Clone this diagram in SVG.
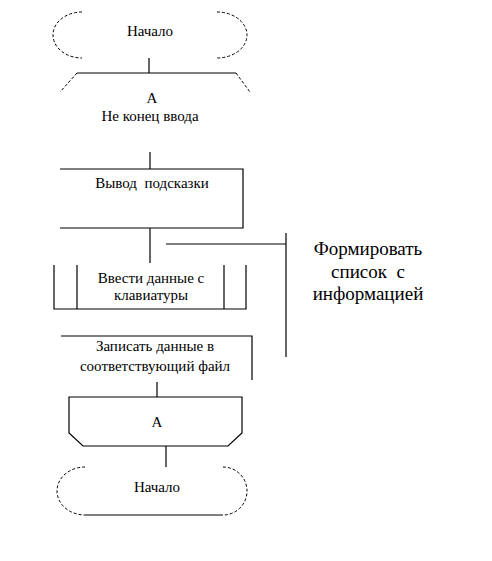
<svg xmlns="http://www.w3.org/2000/svg" width="492" height="561" viewBox="0 0 492 561">
<style>
.ln{stroke:#000;stroke-width:1.2;fill:none}
.ds{stroke:#000;stroke-width:1;fill:none;stroke-dasharray:3 2}
text{font-family:'Liberation Serif','Times New Roman',serif;fill:#000;text-anchor:middle;white-space:pre;font-size:15px}
.tb{font-size:19px}
</style>
<rect width="492" height="561" fill="#fff"/>
<g id="start">
<path class="ds" d="M82,12 A29,23 0 0 0 82,58"/>
<path class="ds" d="M217,12 A30,23 0 0 1 217,58"/>
<text x="150" y="36">Начало</text>
</g>
<g id="loop-start">
<line class="ln" x1="77" y1="73" x2="236" y2="73"/>
<line class="ds" x1="77" y1="73" x2="60" y2="92"/>
<line class="ds" x1="236" y1="73" x2="250" y2="92"/>
<text x="152" y="103">А</text>
<text x="150" y="121">Не конец ввода</text>
</g>
<g id="prompt">
<path class="ln" d="M60,169 H243 V228 H60"/>
<text x="152" y="188">Вывод  подсказки</text>
</g>
<g id="input">
<path class="ln" d="M54,265 V309 H246 V265 M77,265 V309 M224,265 V309"/>
<text x="151" y="283">Ввести данные с</text>
<text x="151" y="300">клавиатуры</text>
</g>
<g id="write">
<path class="ln" d="M61,336 H252 V380"/>
<text x="155" y="351">Записать данные в</text>
<text x="155" y="371">соответствующий файл</text>
</g>
<g id="loop-end">
<path class="ln" d="M69,433 V397 H242 V433 L228,446 H83 Z"/>
<text x="157" y="427">А</text>
</g>
<g id="end">
<path class="ds" d="M85,467 A28,24 0 0 0 85,515"/>
<path class="ds" d="M223,467 A24,24 0 0 1 223,515"/>
<line class="ln" x1="85" y1="515" x2="223" y2="515"/>
<text x="157" y="492">Начало</text>
</g>
<g id="comment">
<path class="ln" d="M166,244 H286 M286,233 V357"/>
<text class="tb" x="368" y="255">Формировать</text>
<text class="tb" x="368" y="278">список  с</text>
<text class="tb" x="368" y="300">информацией</text>
</g>
<g id="connectors">
<line class="ln" x1="149" y1="58" x2="149" y2="73"/>
<line class="ln" x1="150" y1="152" x2="150" y2="169"/>
<line class="ln" x1="150" y1="228" x2="150" y2="263"/>
<line class="ln" x1="157" y1="382" x2="157" y2="397"/>
<line class="ln" x1="166" y1="446" x2="166" y2="467"/>
</g>
</svg>
